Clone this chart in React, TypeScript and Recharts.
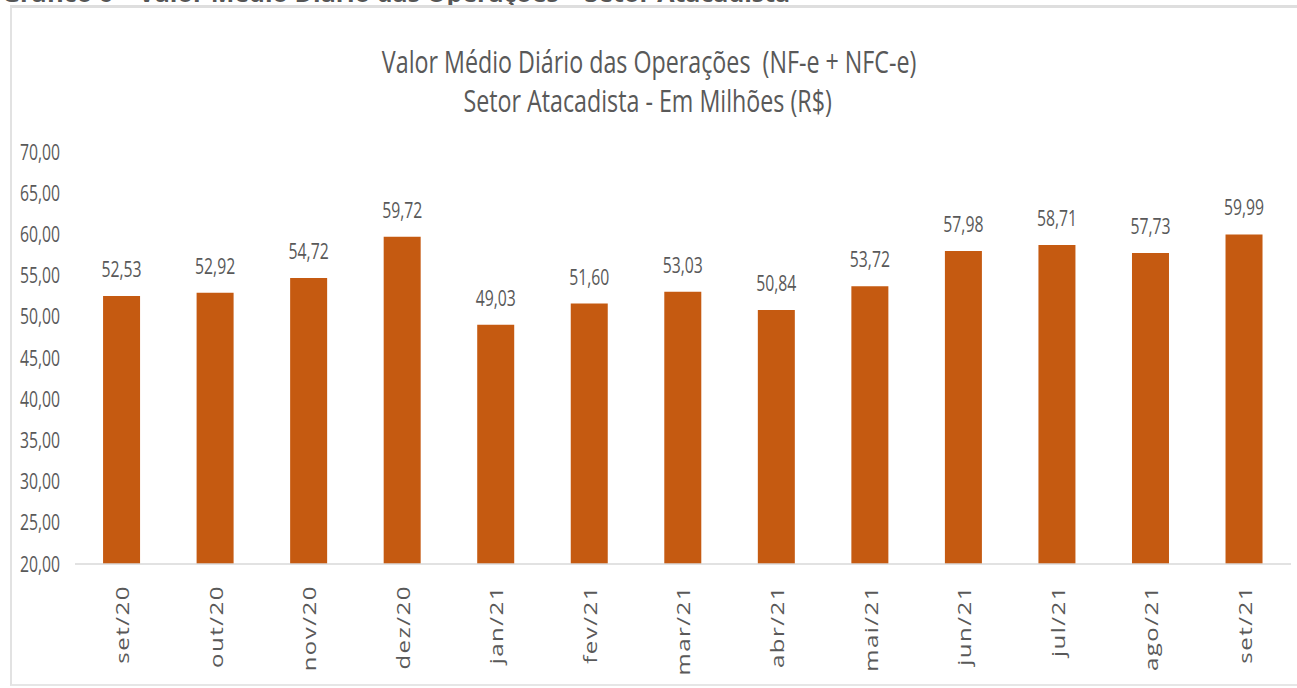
import { BarChart, Bar, XAxis, YAxis, LabelList } from 'recharts';

const months = ['set/20', 'out/20', 'nov/20', 'dez/20', 'jan/21', 'fev/21', 'mar/21', 'abr/21', 'mai/21', 'jun/21', 'jul/21', 'ago/21', 'set/21'];
const valores = [52.53, 52.92, 54.72, 59.72, 49.03, 51.6, 53.03, 50.84, 53.72, 57.98, 58.71, 57.73, 59.99];
const yTicks = [20, 25, 30, 35, 40, 45, 50, 55, 60, 65, 70];

const data = months.map((m, i) => ({ mes: m, valor: valores[i] }));

const FONT = "'Open Sans', 'Noto Sans', sans-serif";
const SQUEEZE = 0.75;

const fmt = (v: number) => v.toFixed(2).replace('.', ',');

function YTick({ x, y, payload }: any) {
  return (
    <text
      transform={`translate(${x - 15},${y}) scale(${SQUEEZE},1)`}
      textAnchor="end"
      dy="0.36em"
      fontFamily={FONT}
      fontSize={21}
      fill="#595959"
    >
      {fmt(payload.value)}
    </text>
  );
}

function XTick({ x, y, payload }: any) {
  return (
    <text
      transform={`translate(${x + 1},${y + 21}) scale(${SQUEEZE},1) rotate(-90)`}
      textAnchor="end"
      dy="0.36em"
      fontFamily={FONT}
      fontSize={24}
      letterSpacing={1.5}
      fill="#595959"
    >
      {payload.value}
    </text>
  );
}

function ValueLabel({ x, y, width, value }: any) {
  return (
    <text
      transform={`translate(${x + width / 2},${y - 19}) scale(${SQUEEZE},1)`}
      textAnchor="middle"
      fontFamily={FONT}
      fontSize={21}
      fill="#595959"
    >
      {fmt(value)}
    </text>
  );
}

export default function App() {
  return (
    <div style={{ position: 'absolute', left: 0, top: 0, width: 1297, height: 688, background: '#fff', overflow: 'hidden', fontFamily: FONT }}>
      {/* caption above the chart box, cut off by the top edge as in the source */}
      <div
        style={{
          position: 'absolute',
          left: 2,
          top: -25,
          fontSize: 25,
          lineHeight: '34px',
          fontWeight: 700,
          color: '#555',
          whiteSpace: 'nowrap',
        }}
      >
        Gráfico 6 – Valor Médio Diário das Operações – Setor Atacadista
      </div>
      <div
        style={{
          position: 'absolute',
          left: 10,
          top: 5,
          width: 1320,
          height: 681,
          borderTop: '3px solid #dedede',
          borderLeft: '2px solid #e2e2e2',
          borderBottom: '2px solid #e6e6e6',
          boxSizing: 'border-box',
          background: '#fff',
        }}
      />
      <div style={{ position: 'absolute', left: 0, top: 42, width: 1297, textAlign: 'center', color: '#595959', fontSize: 31, lineHeight: '39px' }}>
        <div style={{ transform: `scaleX(${SQUEEZE})`, transformOrigin: '651px 0' }}>
          Valor Médio Diário das Operações&nbsp; (NF-e + NFC-e)
        </div>
        <div style={{ transform: `scaleX(${SQUEEZE})`, transformOrigin: '645px 0' }}>
          Setor Atacadista - Em Milhões (R$)
        </div>
      </div>
      <div style={{ position: 'absolute', left: 0, top: 0 }}>
        <BarChart
          width={1297}
          height={688}
          data={data}
          margin={{ top: 152, right: 6, bottom: 14, left: 10 }}
          barCategoryGap="30%"
        >
          <XAxis
            dataKey="mes"
            axisLine={{ stroke: '#d9d9d9', strokeWidth: 1.5 }}
            tickLine={false}
            tickSize={0}
            tickMargin={0}
            interval={0}
            height={110}
            tick={<XTick />}
          />
          <YAxis
            domain={[20, 70]}
            ticks={yTicks}
            axisLine={false}
            tickLine={false}
            tickSize={0}
            tickMargin={0}
            width={65}
            tick={<YTick />}
            allowDataOverflow
          />
          <Bar dataKey="valor" fill="#c55a11" isAnimationActive={false}>
            <LabelList dataKey="valor" content={<ValueLabel />} />
          </Bar>
        </BarChart>
      </div>
    </div>
  );
}
